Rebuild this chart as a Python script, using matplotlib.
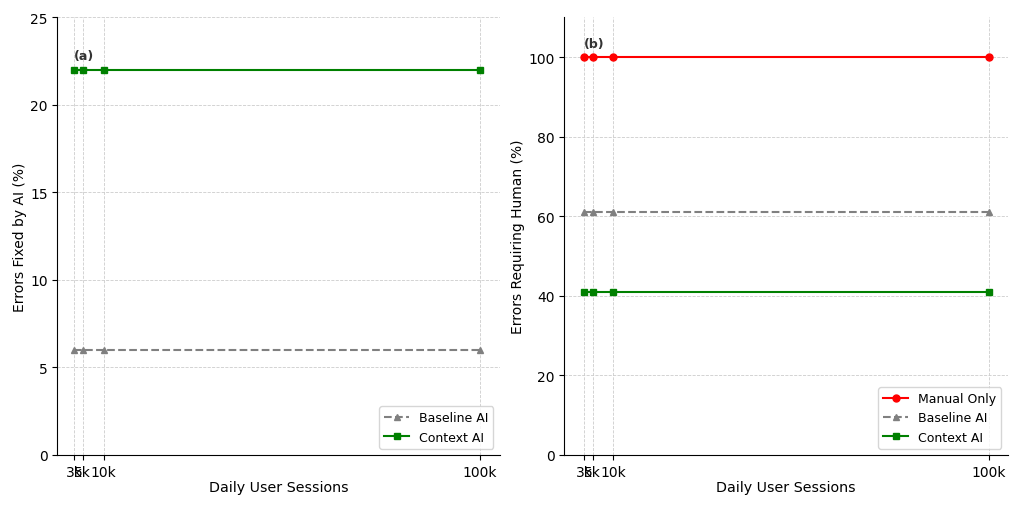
import numpy as np
import matplotlib.pyplot as plt

sessions = [3000, 5000, 10000, 100000]
tick_labels = ['3k', '5k', '10k', '100k']

fixed_baseline = [6, 6, 6, 6]
fixed_context = [22, 22, 22, 22]

human_manual = [100, 100, 100, 100]
human_baseline = [61, 61, 61, 61]
human_context = [41, 41, 41, 41]

fig = plt.figure(figsize=(10.24, 5.06), dpi=100)
ax1 = fig.add_axes([0.056, 0.099, 0.432, 0.865])
ax2 = fig.add_axes([0.551, 0.099, 0.433, 0.865])

# (a) errors fixed by AI
ax1.plot(sessions, fixed_baseline, '--^', color='gray', markersize=5, label='Baseline AI')
ax1.plot(sessions, fixed_context, '-s', color='green', markersize=5, label='Context AI')
ax1.set_ylim(0, 25)
ax1.set_xlim(-1060, 104780)
ax1.set_ylabel('Errors Fixed by AI (%)', labelpad=2)
ax1.text(sessions[0], 22.6, '(a)', fontsize=9, fontweight='bold', color='#333333')

# (b) errors requiring human
ax2.plot(sessions, human_manual, '-o', color='red', markersize=5, label='Manual Only')
ax2.plot(sessions, human_baseline, '--^', color='gray', markersize=5, label='Baseline AI')
ax2.plot(sessions, human_context, '-s', color='green', markersize=5, label='Context AI')
ax2.set_ylim(0, 110)
ax2.set_xlim(-1790, 104550)
ax2.set_ylabel('Errors Requiring Human (%)', labelpad=2)
ax2.text(sessions[0], 102.5, '(b)', fontsize=9, fontweight='bold', color='#333333')

for ax in (ax1, ax2):
    ax.set_xticks(sessions)
    ax.set_xticklabels(tick_labels)
    ax.set_xlabel('Daily User Sessions', fontsize=10.3, labelpad=1)
    ax.grid(True, linestyle='--', linewidth=0.6, color='#cccccc')
    ax.spines['top'].set_visible(False)
    ax.spines['right'].set_visible(False)
    ax.legend(loc='lower right', fontsize=9)

fig.savefig('out.png', dpi=100)
